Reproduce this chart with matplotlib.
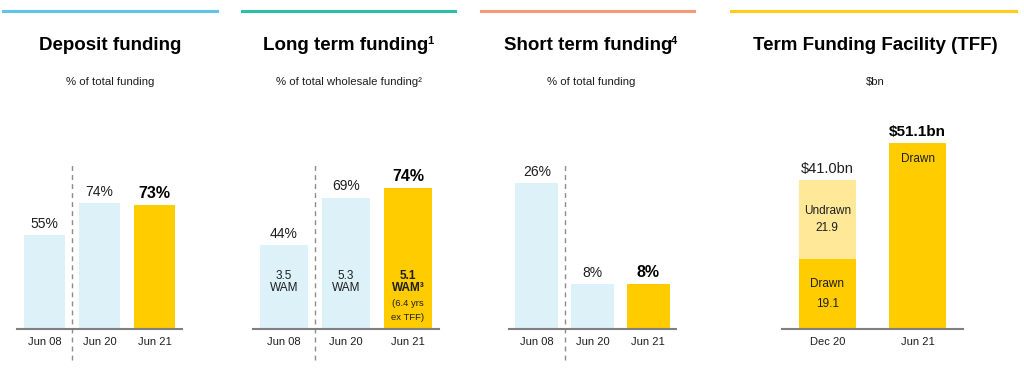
import matplotlib
matplotlib.use("Agg")
import matplotlib.pyplot as plt

plt.rcParams['font.family'] = ['Liberation Sans', 'DejaVu Sans']

# data
periods_a = ['Jun 08', 'Jun 20', 'Jun 21']
deposit = [55, 74, 73]
long_term = [44, 69, 74]
wam = ['3.5', '5.3', '5.1']
short_term = [26, 8, 8]
tff_periods = ['Dec 20', 'Jun 21']
tff_drawn = [19.1, 51.1]
tff_undrawn = [21.9, 0.0]
tff_total = [41.0, 51.1]

LIGHT = '#DCF1F8'
YELLOW = '#FFCC00'
PALE_YELLOW = '#FFE999'
GREY = '#7F7F7F'
TEXT = '#1E1E1E'

W, H = 1024, 383
fig = plt.figure(figsize=(W / 100, H / 100), dpi=100)
renderer = fig.canvas.get_renderer()


def px_axes(x0, x1, ytop=100, ybase=329):
    return fig.add_axes([x0 / W, (H - ybase) / H, (x1 - x0) / W, (ybase - ytop) / H])


def style(ax, labels, xlim):
    for s in ['top', 'right', 'left']:
        ax.spines[s].set_visible(False)
    ax.spines['bottom'].set_color(GREY)
    ax.spines['bottom'].set_linewidth(1.5)
    ax.set_yticks([])
    ax.set_xticks(range(len(labels)))
    ax.set_xticklabels(labels, fontsize=8, color=TEXT)
    ax.tick_params(axis='x', length=0, pad=6)
    ax.set_xlim(*xlim)
    ax.patch.set_alpha(0)


def header(xc, x0, x1, color, title, sub, sup=None):
    fig.add_artist(plt.Line2D([x0 / W, x1 / W], [(H - 11) / H] * 2, color=color, lw=2.2))
    y = (H - 46) / H
    t = fig.text(xc / W, y, title, ha='center', va='center', fontsize=13.5,
                 fontweight='bold', color='black')
    if sup:
        s = fig.text(0, 0, sup, fontsize=8, fontweight='bold', color='black')
        sw = s.get_window_extent(renderer).width
        tw = t.get_window_extent(renderer).width
        t.set_x((xc - sw / 2) / W)
        s.set_position(((xc - sw / 2 + tw / 2 - 1) / W, (H - 44) / H))
    fig.text(xc / W, (H - 82) / H, sub, ha='center', va='center', fontsize=8.2, color=TEXT)


def value_labels(ax, vals, fmt):
    for i, v in enumerate(vals):
        last = i == len(vals) - 1
        ax.annotate(fmt.format(v), (i, v), xytext=(0, 3), textcoords='offset points',
                    ha='center', va='bottom', fontsize=11.5 if last else 10,
                    fontweight='bold' if last else 'normal', color='black' if last else TEXT)


def divider(ax):
    ax.axvline(0.5, ymin=-0.135, ymax=0.725, color='#8C8C8C', lw=1, ls=(0, (3.5, 3)),
               clip_on=False)


colors3 = [LIGHT, LIGHT, YELLOW]

# panel 1: deposit funding
header(110, 3, 217, '#62C3E8', 'Deposit funding', '% of total funding')
ax1 = px_axes(17, 182)
ax1.bar(range(3), deposit, width=0.76, color=colors3)
ax1.set_ylim(0, max(deposit) * 229 / 126)
style(ax1, periods_a, (-0.5, 2.5))
value_labels(ax1, deposit, '{}%')
divider(ax1)

# panel 2: long term funding
header(349, 242, 455, '#2CBFA8', 'Long term funding', '% of total wholesale funding\u00b2', '1')
ax2 = px_axes(253, 439)
ax2.bar(range(3), long_term, width=0.76, color=colors3)
ax2.set_ylim(0, max(long_term) * 229 / 141)
style(ax2, periods_a, (-0.5, 2.5))
value_labels(ax2, long_term, '{}%')
divider(ax2)
for i, w in enumerate(wam):
    bold = 'bold' if i == 2 else 'normal'
    ax2.annotate(w, (i, 0), xytext=(0, 38), textcoords='offset points', ha='center',
                 va='center', fontsize=8.5, fontweight=bold, color=TEXT)
    ax2.annotate('WAM\u00b3' if i == 2 else 'WAM', (i, 0), xytext=(0, 29.5),
                 textcoords='offset points', ha='center', va='center', fontsize=8.5,
                 fontweight=bold, color=TEXT)
ax2.annotate('(6.4 yrs', (2, 0), xytext=(0, 18.5), textcoords='offset points',
             ha='center', va='center', fontsize=6.8, color=TEXT)
ax2.annotate('ex TFF)', (2, 0), xytext=(0, 8.5), textcoords='offset points',
             ha='center', va='center', fontsize=6.8, color=TEXT)

# panel 3: short term funding
header(591, 481, 694, '#F79877', 'Short term funding', '% of total funding', '4')
ax3 = px_axes(509, 676)
ax3.bar(range(3), short_term, width=0.77, color=colors3)
ax3.set_ylim(0, max(short_term) * 229 / 146)
style(ax3, periods_a, (-0.5, 2.5))
value_labels(ax3, short_term, '{}%')
divider(ax3)

# panel 4: TFF
header(875, 731, 1016, '#FFCC1A', 'Term Funding Facility (TFF)', '$bn')
ax4 = px_axes(782, 963)
ax4.bar(range(2), tff_drawn, width=0.63, color=YELLOW)
ax4.bar(range(2), tff_undrawn, bottom=tff_drawn, width=0.63, color=PALE_YELLOW)
ax4.set_ylim(0, max(tff_total) * 229 / 186)
style(ax4, tff_periods, (-0.5, 1.5))
for i, t in enumerate(tff_total):
    last = i == 1
    ax4.annotate('${:.1f}bn'.format(t), (i, t), xytext=(0, 3), textcoords='offset points',
                 ha='center', va='bottom', fontsize=11 if last else 10.5,
                 fontweight='bold' if last else 'normal', color='black' if last else TEXT)
# Dec 20 segments
mid_u = tff_drawn[0] + tff_undrawn[0] / 2
ax4.annotate('Undrawn', (0, mid_u), xytext=(0, 6.5), textcoords='offset points',
             ha='center', va='center', fontsize=8.5, color=TEXT)
ax4.annotate('{:.1f}'.format(tff_undrawn[0]), (0, mid_u), xytext=(0, -6), textcoords='offset points',
             ha='center', va='center', fontsize=8.5, color=TEXT)
mid_d = tff_drawn[0] / 2
ax4.annotate('Drawn', (0, mid_d), xytext=(0, 7.5), textcoords='offset points',
             ha='center', va='center', fontsize=8.5, color=TEXT)
ax4.annotate('{:.1f}'.format(tff_drawn[0]), (0, mid_d), xytext=(0, -7), textcoords='offset points',
             ha='center', va='center', fontsize=8.5, color=TEXT)
ax4.annotate('Drawn', (1, tff_drawn[1]), xytext=(0, -11.5), textcoords='offset points',
             ha='center', va='center', fontsize=8.5, color=TEXT)

fig.savefig('out.png', dpi=100)
